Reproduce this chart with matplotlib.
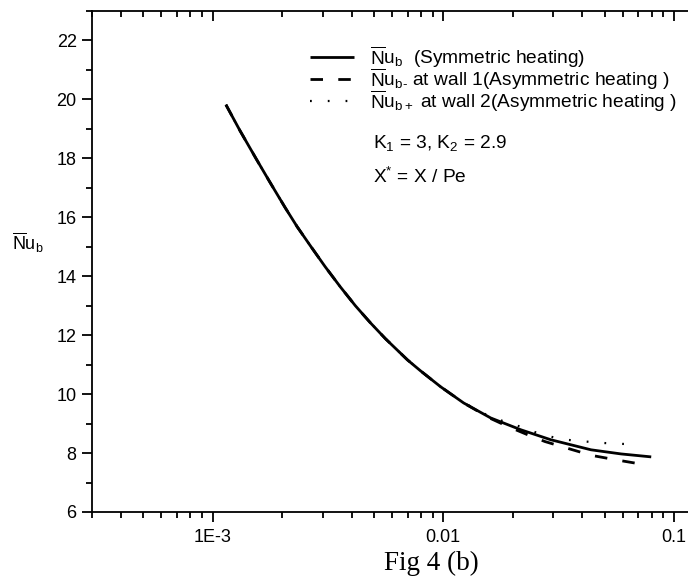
import matplotlib
matplotlib.use("Agg")
import matplotlib.pyplot as plt
from matplotlib.ticker import LogLocator, NullFormatter, FixedLocator, FixedFormatter, MultipleLocator

plt.rcParams['font.family'] = ['Liberation Sans', 'DejaVu Sans']
plt.rcParams['mathtext.fontset'] = 'custom'
plt.rcParams['mathtext.rm'] = 'Liberation Sans'
plt.rcParams['mathtext.it'] = 'Liberation Sans:italic'
plt.rcParams['mathtext.bf'] = 'Liberation Sans:bold'

# ---- data ----
x_sym = [1.142e-3, 1.314e-3, 1.543e-3, 1.775e-3, 2.062e-3, 2.325e-3, 2.649e-3,
         3.077e-3, 3.577e-3, 4.156e-3, 4.830e-3, 5.613e-3, 6.995e-3, 7.966e-3,
         9.734e-3, 0.01225, 0.01606, 0.02168, 0.02928, 0.0437, 0.05902, 0.07966]
nu_sym = [19.82, 18.94, 17.99, 17.18, 16.33, 15.68, 15.04,
          14.32, 13.64, 13.00, 12.42, 11.88, 11.16, 10.79,
          10.25, 9.70, 9.19, 8.79, 8.45, 8.11, 7.97, 7.87]

x_wall1 = [1.142e-3, 1.314e-3, 1.543e-3, 1.775e-3, 2.062e-3, 2.325e-3, 2.649e-3,
           3.077e-3, 3.577e-3, 4.156e-3, 4.830e-3, 5.613e-3, 6.995e-3, 7.966e-3,
           9.734e-3, 0.01225, 0.01606, 0.0192, 0.0239, 0.0276, 0.036, 0.044, 0.057, 0.074]
nu_wall1 = [19.82, 18.94, 17.99, 17.18, 16.33, 15.68, 15.04,
            14.32, 13.64, 13.00, 12.42, 11.88, 11.16, 10.79,
            10.25, 9.70, 9.17, 8.89, 8.58, 8.39, 8.12, 7.92, 7.76, 7.61]

x_wall2 = [1.142e-3, 1.314e-3, 1.543e-3, 1.775e-3, 2.062e-3, 2.325e-3, 2.649e-3,
           3.077e-3, 3.577e-3, 4.156e-3, 4.830e-3, 5.613e-3, 6.995e-3, 7.966e-3,
           9.734e-3, 0.01225, 0.01606, 0.0217, 0.0262, 0.0324, 0.040, 0.050, 0.060, 0.0706]
nu_wall2 = [19.82, 18.94, 17.99, 17.18, 16.33, 15.68, 15.04,
            14.32, 13.64, 13.00, 12.42, 11.88, 11.16, 10.79,
            10.25, 9.71, 9.22, 8.89, 8.65, 8.47, 8.40, 8.34, 8.31, 8.31]

x_ticks = [1e-3, 1e-2, 1e-1]
x_ticklabels = ['1E-3', '0.01', '0.1']
y_ticks = [6, 8, 10, 12, 14, 16, 18, 20, 22]

lab_sym = r'$\overline{\mathrm{N}}\mathrm{u}_{\mathrm{b}}$  (Symmetric heating)'
lab_w1 = r'$\overline{\mathrm{N}}\mathrm{u}_{\mathrm{b\text{-}}}$ at wall 1(Asymmetric heating )'
lab_w2 = r'$\overline{\mathrm{N}}\mathrm{u}_{\mathrm{b+}}$ at wall 2(Asymmetric heating )'

fig = plt.figure(figsize=(6.88, 5.80), dpi=100)
ax = fig.add_axes([92/688, 68/580, 1 - 92/688, (512-11)/580])

l1, = ax.plot(x_sym, nu_sym, color='black', lw=2.0, solid_capstyle='butt')
l2, = ax.plot(x_wall1, nu_wall1, color='black', lw=2.0, linestyle=(0, (4.5, 5.5)))
l3, = ax.plot(x_wall2, nu_wall2, color='black', lw=1.6, linestyle=(0, (0.8, 7.2)))

ax.set_xscale('log')
ax.set_xlim(3e-4, 0.115)
ax.set_ylim(6, 23)

ax.xaxis.set_major_locator(FixedLocator(x_ticks))
ax.xaxis.set_major_formatter(FixedFormatter(x_ticklabels))
ax.xaxis.set_minor_locator(LogLocator(base=10, subs=range(2, 10)))
ax.xaxis.set_minor_formatter(NullFormatter())
ax.yaxis.set_major_locator(FixedLocator(y_ticks))
ax.yaxis.set_minor_locator(MultipleLocator(1))

ax.spines['right'].set_visible(False)
for s in ['left', 'bottom', 'top']:
    ax.spines[s].set_linewidth(1.3)

ax.tick_params(axis='x', which='major', direction='out', length=7, width=1.3,
               labelsize=13, pad=5, top=True, bottom=True)
ax.tick_params(axis='x', which='minor', direction='out', length=4, width=1.3,
               top=True, bottom=True)
ax.tick_params(axis='y', which='major', direction='out', length=7, width=1.3,
               labelsize=13, pad=4, right=False)
ax.tick_params(axis='y', which='minor', direction='out', length=4, width=1.3)
# top ticks point inward
for t in ax.xaxis.get_major_ticks():
    t.tick2line.set_marker(3)
    t.tick2line.set_markersize(7)
for t in ax.xaxis.get_minor_ticks():
    t.tick2line.set_marker(3)
    t.tick2line.set_markersize(4)

ax.set_ylabel(r'$\overline{\mathrm{N}}\mathrm{u}_{\mathrm{b}}$', rotation=0, fontsize=13,
              va='center', ha='center')
ax.yaxis.set_label_coords(-0.107, 0.537)

leg = ax.legend([l1, l2, l3], [lab_sym, lab_w1, lab_w2], frameon=False, fontsize=13.8,
                loc='upper left', bbox_to_anchor=(310/688, 1 - 44/580),
                bbox_transform=fig.transFigure, handlelength=2.3, handletextpad=0.85,
                labelspacing=-0.2, borderpad=0, borderaxespad=0)

fig.text(373/688, 1 - 143/580, r'K$_{1}$ = 3, K$_{2}$ = 2.9', fontsize=13.8, va='center')
fig.text(373/688, 1 - 177/580, r'X$^{*}$ = X / Pe', fontsize=13.8, va='center')

fig.text(431/688, 1 - 563/580, 'Fig 4 (b)', fontsize=19.5, family='Liberation Serif',
         ha='center', va='center')

fig.savefig('out.png', dpi=100)
